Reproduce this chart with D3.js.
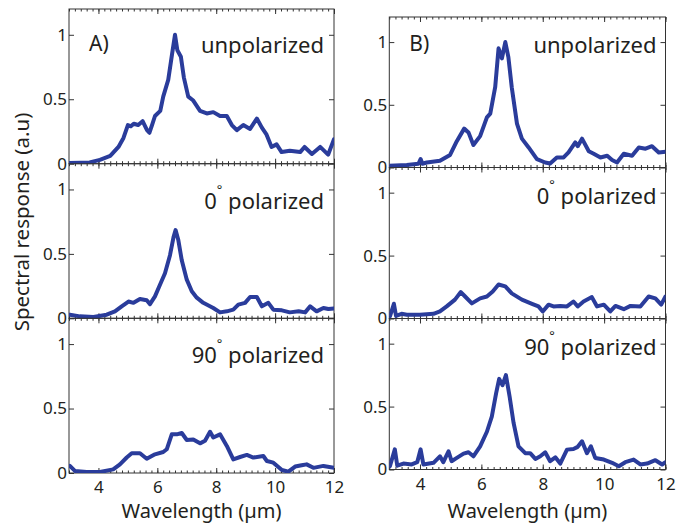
<!DOCTYPE html>
<html>
<head>
<meta charset="utf-8">
<script src="https://cdn.jsdelivr.net/npm/d3@7"></script>
<style>
  body { margin: 0; background: #fff; }
  text { font-family: "Noto Sans", sans-serif; fill: #231f20; }
</style>
</head>
<body>
<script>
// wavelength (um) and response (a.u.)
var aUnpolWl = [3.0, 3.4, 3.7, 4.05, 4.4, 4.68, 4.85, 5.0, 5.1, 5.2, 5.35, 5.5, 5.65, 5.73, 5.82, 5.92, 6.1, 6.2, 6.37, 6.5, 6.6, 6.68, 6.8, 6.9, 7.05, 7.22, 7.45, 7.68, 7.9, 8.13, 8.36, 8.53, 8.7, 8.92, 9.15, 9.38, 9.55, 9.7, 9.88, 10.05, 10.22, 10.5, 10.85, 11.0, 11.25, 11.53, 11.8, 12.0];
var aUnpolR  = [0.005, 0.008, 0.01, 0.03, 0.06, 0.13, 0.2, 0.3, 0.29, 0.31, 0.3, 0.33, 0.26, 0.24, 0.3, 0.37, 0.41, 0.52, 0.65, 0.85, 1.0, 0.88, 0.83, 0.67, 0.52, 0.49, 0.41, 0.39, 0.4, 0.37, 0.37, 0.3, 0.26, 0.3, 0.27, 0.35, 0.28, 0.23, 0.13, 0.15, 0.09, 0.1, 0.09, 0.13, 0.075, 0.13, 0.07, 0.19];

var a0Wl = [3.03, 3.37, 3.83, 4.28, 4.56, 4.79, 5.02, 5.19, 5.41, 5.64, 5.75, 5.92, 6.09, 6.26, 6.43, 6.55, 6.62, 6.71, 6.83, 7.0, 7.17, 7.34, 7.56, 7.9, 8.13, 8.36, 8.58, 8.75, 8.98, 9.15, 9.38, 9.55, 9.77, 9.94, 10.23, 10.5, 10.8, 11.02, 11.19, 11.41, 11.64, 11.81, 12.0];
var a0R  = [0.028, 0.015, 0.01, 0.028, 0.054, 0.093, 0.13, 0.12, 0.15, 0.14, 0.11, 0.17, 0.26, 0.35, 0.49, 0.63, 0.685, 0.61, 0.45, 0.3, 0.21, 0.16, 0.12, 0.08, 0.046, 0.054, 0.067, 0.106, 0.12, 0.165, 0.165, 0.093, 0.12, 0.067, 0.062, 0.046, 0.054, 0.046, 0.093, 0.054, 0.08, 0.072, 0.077];

var a90Wl = [3.03, 3.2, 3.6, 4.05, 4.5, 4.73, 4.96, 5.13, 5.41, 5.64, 5.92, 6.2, 6.32, 6.49, 6.66, 6.83, 7.0, 7.22, 7.45, 7.62, 7.79, 7.9, 8.13, 8.36, 8.58, 8.81, 9.04, 9.26, 9.6, 9.72, 9.94, 10.23, 10.45, 10.68, 10.9, 11.07, 11.3, 11.64, 12.0];
var a90R  = [0.055, 0.016, 0.008, 0.008, 0.028, 0.067, 0.12, 0.153, 0.153, 0.11, 0.145, 0.163, 0.184, 0.3, 0.3, 0.31, 0.256, 0.26, 0.23, 0.25, 0.32, 0.275, 0.3, 0.21, 0.106, 0.124, 0.14, 0.12, 0.132, 0.093, 0.08, 0.023, 0.01, 0.05, 0.06, 0.067, 0.04, 0.055, 0.04];

var bUnpolWl = [3.0, 3.57, 3.95, 4.02, 4.08, 4.22, 4.65, 4.98, 5.2, 5.44, 5.58, 5.74, 5.96, 6.18, 6.29, 6.45, 6.56, 6.67, 6.78, 6.88, 6.99, 7.16, 7.32, 7.54, 7.81, 8.08, 8.24, 8.46, 8.68, 8.84, 9.06, 9.14, 9.28, 9.5, 9.66, 9.88, 10.1, 10.26, 10.42, 10.64, 10.91, 11.13, 11.35, 11.56, 11.78, 12.0];
var bUnpolR  = [0.013, 0.02, 0.03, 0.067, 0.03, 0.04, 0.053, 0.1, 0.21, 0.31, 0.28, 0.18, 0.25, 0.4, 0.43, 0.64, 0.95, 0.87, 1.0, 0.88, 0.64, 0.35, 0.23, 0.16, 0.067, 0.04, 0.032, 0.08, 0.08, 0.12, 0.2, 0.17, 0.23, 0.13, 0.11, 0.08, 0.094, 0.06, 0.04, 0.11, 0.094, 0.16, 0.15, 0.17, 0.12, 0.125];

var b0Wl = [3.02, 3.15, 3.22, 3.4, 3.57, 4.0, 4.44, 4.65, 4.87, 5.14, 5.33, 5.47, 5.69, 5.96, 6.18, 6.37, 6.56, 6.78, 6.99, 7.32, 7.65, 7.86, 8.0, 8.19, 8.35, 8.57, 8.79, 9.0, 9.14, 9.33, 9.6, 9.77, 9.99, 10.2, 10.37, 10.64, 10.86, 11.18, 11.45, 11.67, 11.86, 12.0];
var b0R  = [0.016, 0.117, 0.02, 0.037, 0.03, 0.03, 0.037, 0.056, 0.096, 0.15, 0.21, 0.175, 0.12, 0.16, 0.175, 0.215, 0.27, 0.255, 0.2, 0.15, 0.117, 0.096, 0.056, 0.11, 0.096, 0.1, 0.096, 0.135, 0.096, 0.135, 0.17, 0.096, 0.11, 0.056, 0.1, 0.074, 0.1, 0.096, 0.175, 0.16, 0.11, 0.175];

var b90Wl = [3.02, 3.18, 3.26, 3.46, 3.73, 3.91, 4.02, 4.11, 4.44, 4.65, 4.76, 4.93, 5.03, 5.2, 5.42, 5.58, 5.74, 5.96, 6.18, 6.34, 6.48, 6.58, 6.69, 6.8, 6.92, 7.05, 7.21, 7.43, 7.59, 7.76, 7.92, 8.08, 8.24, 8.41, 8.57, 8.79, 9.0, 9.14, 9.28, 9.44, 9.57, 9.71, 9.99, 10.26, 10.48, 10.69, 10.96, 11.18, 11.4, 11.67, 11.89, 12.0];
var b90R  = [0.026, 0.16, 0.03, 0.047, 0.04, 0.058, 0.16, 0.04, 0.053, 0.105, 0.058, 0.145, 0.066, 0.092, 0.126, 0.137, 0.105, 0.184, 0.3, 0.42, 0.605, 0.72, 0.67, 0.75, 0.58, 0.37, 0.184, 0.13, 0.13, 0.084, 0.105, 0.137, 0.066, 0.097, 0.047, 0.158, 0.163, 0.18, 0.224, 0.13, 0.184, 0.092, 0.079, 0.053, 0.026, 0.058, 0.079, 0.04, 0.047, 0.074, 0.04, 0.058];

var xMajor = [4, 6, 8, 10, 12];
var yTicks = [0, 0.5, 1];
var panelLabels = ["unpolarized", "0", "90"];

var width = 676, height = 527;
var lineColor = "#2a3c9b";

var svg = d3.select("body").append("svg")
    .attr("width", width)
    .attr("height", height);

var columns = [
  { x0: 69, x1: 334, rows: [[9, 163.7], [163.7, 318.3], [318.3, 473]], tag: "A)",
    series: [[aUnpolWl, aUnpolR], [a0Wl, a0R], [a90Wl, a90R]] },
  { x0: 389.3, x1: 665.5, rows: [[17, 167.5], [167.5, 318.5], [318.5, 469.5]], tag: "B)",
    series: [[bUnpolWl, bUnpolR], [b0Wl, b0R], [b90Wl, b90R]] }
];

var minorTicks = d3.range(3, 12.001, 0.2).map(function (d) { return +d.toFixed(1); });

columns.forEach(function (col, ci) {
  var x = d3.scaleLinear().domain([3, 12]).range([col.x0, col.x1]);

  col.rows.forEach(function (row, ri) {
    var y = d3.scaleLinear().domain([0, 1.2]).range([row[1], row[0]]);
    var g = svg.append("g");
    var clipId = "clip" + ci + ri;

    g.append("clipPath").attr("id", clipId)
      .append("rect")
      .attr("x", col.x0).attr("y", row[0])
      .attr("width", col.x1 - col.x0).attr("height", row[1] - row[0]);

    // minor ticks top and bottom
    g.append("g").attr("transform", "translate(0," + row[1] + ")")
      .call(d3.axisBottom(x).tickValues(minorTicks).tickSize(-2.5).tickFormat(""));
    g.append("g").attr("transform", "translate(0," + row[0] + ")")
      .call(d3.axisTop(x).tickValues(minorTicks).tickSize(-2.5).tickFormat(""));
    // major ticks
    var bottom = d3.axisBottom(x).tickValues(xMajor).tickSize(-5).tickPadding(8);
    if (ri < 2) bottom.tickFormat("");
    g.append("g").attr("class", "xb").attr("transform", "translate(0," + row[1] + ")")
      .call(bottom);
    g.append("g").attr("transform", "translate(0," + row[0] + ")")
      .call(d3.axisTop(x).tickValues(xMajor).tickSize(-5).tickFormat(""));
    // y ticks
    g.append("g").attr("class", "yl").attr("transform", "translate(" + col.x0 + ",0)")
      .call(d3.axisLeft(y).tickValues(yTicks).tickSize(-5).tickPadding(2).tickFormat(d3.format("")));
    g.append("g").attr("transform", "translate(" + col.x1 + ",0)")
      .call(d3.axisRight(y).tickValues(yTicks).tickSize(-5).tickFormat(""));

    g.selectAll(".domain").remove();
    g.selectAll(".tick line").attr("stroke", "#333").attr("stroke-width", 1);
    g.selectAll(".tick text").style("font-size", "17px").attr("fill", "#231f20");

    g.append("rect")
      .attr("x", col.x0).attr("y", row[0])
      .attr("width", col.x1 - col.x0).attr("height", row[1] - row[0])
      .attr("fill", "none").attr("stroke", "#333").attr("stroke-width", 1);

    var s = col.series[ri];
    var pts = s[0].map(function (w, i) { return [w, s[1][i]]; });
    var line = d3.line()
      .x(function (d) { return x(d[0]); })
      .y(function (d) { return y(d[1]); });
    g.append("path")
      .datum(pts)
      .attr("clip-path", "url(#" + clipId + ")")
      .attr("d", line)
      .attr("fill", "none")
      .attr("stroke", lineColor)
      .attr("stroke-width", 4)
      .attr("stroke-linejoin", "round")
      .attr("stroke-linecap", "round");

    // panel label
    var tx = col.x1 - (ci === 0 ? 10 : 9);
    var ty = row[0] + (ci === 0 ? 44 : 36) + (ri === 0 ? 0 : (ci === 0 ? 1 : 0));
    var t = g.append("text")
      .attr("x", tx).attr("y", ty)
      .attr("text-anchor", "end")
      .style("font-size", "22px");
    if (ri === 0) {
      t.text(panelLabels[0]);
      g.append("text")
        .attr("x", col.x0 + 20).attr("y", row[0] + (ci === 0 ? 42 : 34))
        .style("font-size", "21px")
        .text(col.tag);
    } else {
      t.append("tspan").text(panelLabels[ri]);
      t.append("tspan").attr("dy", -15).style("font-size", "13px").text("°");
      t.append("tspan").attr("dy", 15).text("  polarized");
    }
  });

  // x axis title
  svg.append("text")
    .attr("x", (col.x0 + col.x1) / 2)
    .attr("y", 518)
    .attr("text-anchor", "middle")
    .style("font-size", "20px")
    .text("Wavelength (\u00b5m)");
});

svg.append("text")
  .attr("transform", "translate(29,222) rotate(-90)")
  .attr("text-anchor", "middle")
  .style("font-size", "20.5px")
  .text("Spectral response (a.u)");
</script>
</body>
</html>
